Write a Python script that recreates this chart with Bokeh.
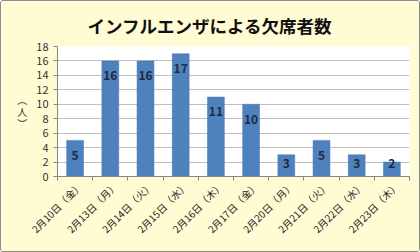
from bokeh.plotting import figure
from bokeh.models import Range1d, FixedTicker, ColumnDataSource
from bokeh.core.properties import value
from bokeh.embed import file_html
from bokeh.resources import INLINE
import math

title = "インフルエンザによる欠席者数"
categories = ["2月10日（金）", "2月13日（月）", "2月14日（火）", "2月15日（水）", "2月16日（木）",
              "2月17日（金）", "2月20日（月）", "2月21日（火）", "2月22日（水）", "2月23日（木）"]
absent = [5, 16, 16, 17, 11, 10, 3, 5, 3, 2]
y_ticks = list(range(0, 19, 2))
y_label = "︵\n人\n︶"

JP = "Noto Sans CJK JP"
n = len(categories)
xs = [i + 0.5 for i in range(n)]
label_x = [x + 0.15 for x in xs]  # rotated label anchor, nudged right like the original
label_y = [max(v - 2.05, 1.8) for v in absent]

src = ColumnDataSource(dict(x=xs, y=absent, ly=label_y, t=[str(v) for v in absent]))

p = figure(width=420, height=252, x_range=Range1d(0, n), y_range=Range1d(0, 18),
           min_border_left=56, min_border_right=12, min_border_top=45, min_border_bottom=77,
           output_backend="svg", toolbar_location=None,
           background_fill_color="white", border_fill_color="#FFFBD3",
           outline_line_color=None)

p.title.text = title
p.title.align = "left"
p.title.offset = 30
p.title.text_font = JP
p.title.text_font_size = "17.5px"
p.title.text_font_style = "bold"
p.title.text_color = "#111111"
p.title.standoff = 18

p.vbar(x="x", top="y", width=0.48, bottom=0, source=src,
       fill_color="#4F81BD", line_color="#4A7AB5", line_width=0.5)
p.text(x="x", y="ly", text="t", source=src, text_align="center", text_baseline="middle",
       text_font=value(JP), text_font_size="12px", text_font_style="bold", text_color="#1F2A44")

# x axis
xa = p.xaxis[0]
xa.ticker = FixedTicker(ticks=label_x, minor_ticks=list(range(n + 1)))
xa.major_label_overrides = {x: c for x, c in zip(label_x, categories)}
xa.major_label_orientation = math.pi / 4
xa.major_label_text_font = JP
xa.major_label_text_font_size = "10px"
xa.major_label_text_color = "#222222"
xa.major_tick_line_color = None
xa.minor_tick_line_color = "#868686"
xa.minor_tick_out = 4
xa.minor_tick_in = 0
xa.axis_line_color = "#868686"
xa.major_label_standoff = 1

ya = p.yaxis[0]
ya.ticker = FixedTicker(ticks=y_ticks, minor_ticks=[])
ya.major_label_text_font = JP
ya.major_label_text_font_size = "11px"
ya.major_label_text_color = "#333333"
ya.major_tick_line_color = "#868686"
ya.major_tick_out = 4
ya.major_tick_in = 0
ya.axis_line_color = "#868686"
ya.axis_label = y_label
ya.axis_label_orientation = "horizontal"
ya.axis_label_text_font = JP
ya.axis_label_text_font_size = "10px"
ya.axis_label_text_line_height = 0.8
ya.axis_label_text_font_style = "normal"
ya.axis_label_text_color = "#333333"
ya.axis_label_standoff = 6

p.xgrid.grid_line_color = None
p.ygrid.grid_line_color = "#BFBFBF"
p.ygrid.ticker = FixedTicker(ticks=y_ticks)

p.styles = {"border": "1px solid #8E8E80", "border-radius": "3px", "box-sizing": "border-box", "overflow": "hidden"}

open("out.html", "w").write(file_html(p, INLINE))
